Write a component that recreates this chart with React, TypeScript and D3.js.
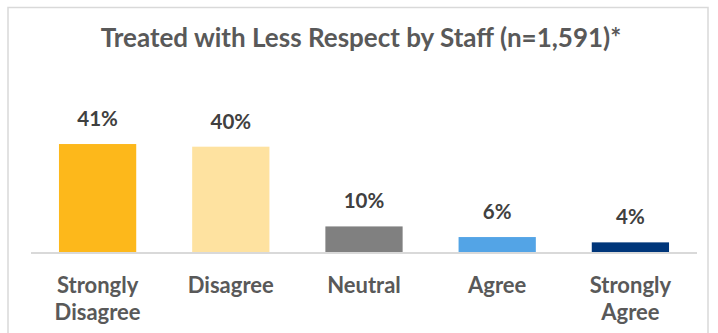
import React from "react";
import * as d3 from "d3";

const categories: string[][] = [
  ["Strongly", "Disagree"],
  ["Disagree"],
  ["Neutral"],
  ["Agree"],
  ["Strongly", "Agree"],
];
const values: number[] = [41, 40, 10, 6, 4];
const barColors: string[] = ["#FDB81B", "#FEE2A0", "#808080", "#53A4E6", "#00367A"];
const title = "Treated with Less Respect by Staff (n=1,591)*";

const W = 718;
const H = 333;
const FONT = "Lato, 'Open Sans', sans-serif";

export default function App() {
  const x = d3
    .scaleBand<number>()
    .domain(d3.range(values.length))
    .range([31, 697])
    .paddingInner(0.42)
    .paddingOuter(0.21);
  const y = d3.scaleLinear().domain([0, 45]).range([253, 133.4]);

  return (
    <svg
      width={W}
      height={H}
      style={{ position: "absolute", left: 0, top: 0, background: "#fff" }}
    >
      <rect x={8} y={7.5} width={700} height={340} fill="#fff" stroke="#D9D9D9" strokeWidth={1.5} />
      <text
        x={361}
        y={47}
        textAnchor="middle"
        fontFamily={FONT}
        fontWeight={700}
        fontSize={26}
        fill="#595959"
      >
        {title}
      </text>
      {values.map((v, i) => (
        <g key={i}>
          <rect
            x={x(i)}
            y={y(v)}
            width={x.bandwidth()}
            height={y(0) - y(v)}
            fill={barColors[i]}
          />
          <text
            x={(x(i) as number) + x.bandwidth() / 2}
            y={y(v) - 18}
            textAnchor="middle"
            fontFamily={FONT}
            fontWeight={700}
            fontSize={20.5}
            fill="#404040"
          >
            {v}%
          </text>
          {categories[i].map((line, j) => (
            <text
              key={j}
              x={(x(i) as number) + x.bandwidth() / 2}
              y={293 + j * 27}
              textAnchor="middle"
              fontFamily={FONT}
              fontWeight={700}
              fontSize={22}
              fill="#595959"
            >
              {line}
            </text>
          ))}
        </g>
      ))}
      <line x1={31} x2={697} y1={y(0)} y2={y(0)} stroke="#D9D9D9" strokeWidth={2} />
    </svg>
  );
}
